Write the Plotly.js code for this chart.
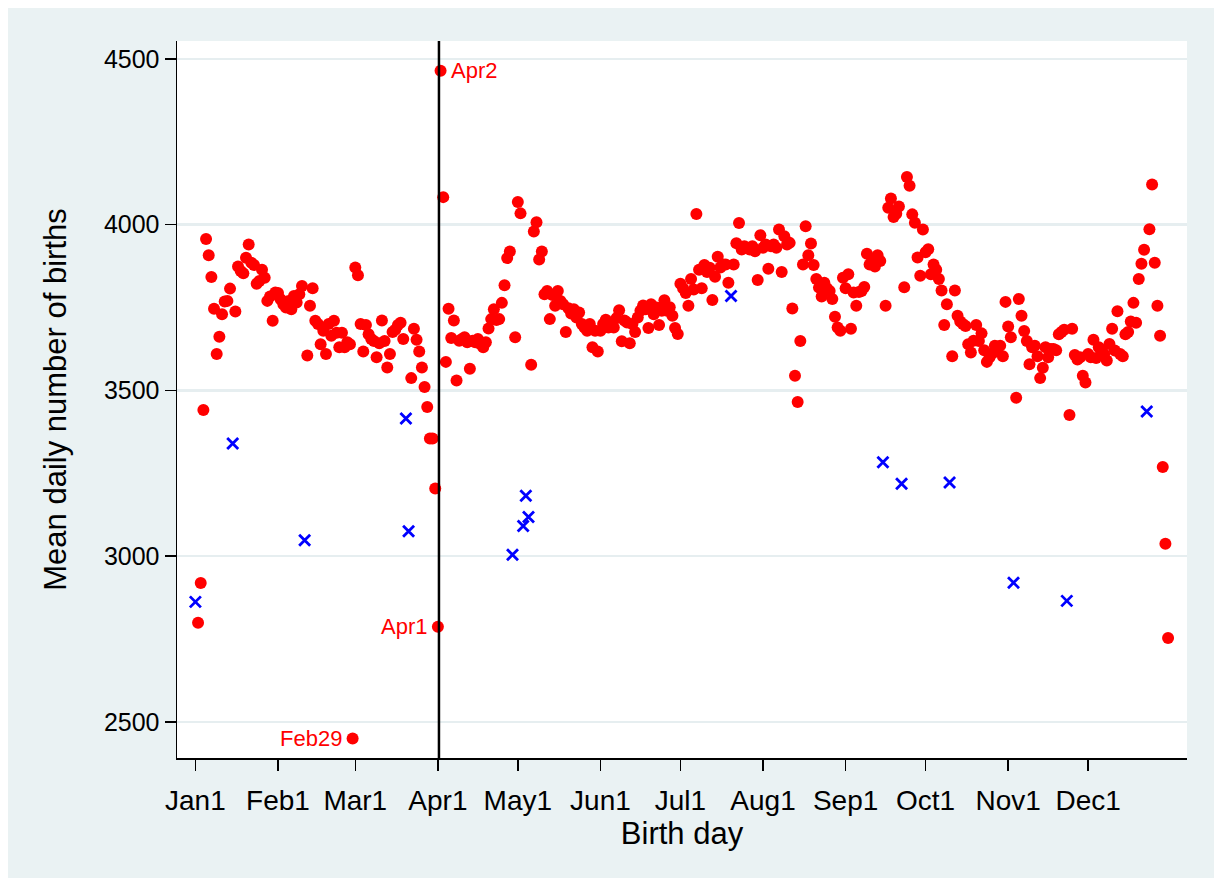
<!DOCTYPE html>
<html>
<head>
<meta charset="utf-8">
<script src="https://cdn.plot.ly/plotly-3.0.1.min.js"></script>
<style>
html,body{margin:0;padding:0;background:#ffffff;}
#chart{position:absolute;left:8px;top:8px;width:1206px;height:870px;}
</style>
</head>
<body>
<div id="chart"></div>
<script>
// Mean daily number of births, by day of year (leap year: 366 days)
const janBirths = [2862, 2799, 2919, 3441, 3957, 3908, 3842, 3746, 3610, 3662, 3730, 3768, 3770, 3807, 3340, 3738, 3874, 3860, 3853, 3900, 3940, 3885, 3878, 3822, 3830, 3864, 3840, 3770, 3783, 3710, 3795];
const febBirths = [3794, 3775, 3760, 3750, 3770, 3745, 3785, 3765, 3790, 3815, 3048, 3605, 3755, 3808, 3710, 3700, 3639, 3680, 3610, 3700, 3665, 3710, 3674, 3630, 3674, 3630, 3645, 3639, 2450];
const marBirths = [3871, 3847, 3700, 3617, 3697, 3669, 3655, 3649, 3600, 3642, 3711, 3649, 3569, 3610, 3676, 3683, 3697, 3704, 3655, 3415, 3075, 3537, 3686, 3653, 3617, 3569, 3510, 3450, 3355, 3355, 3204];
const aprBirths = [2787, 4464, 4083, 3586, 3746, 3658, 3711, 3530, 3650, 3655, 3660, 3645, 3565, 3650, 3645, 3655, 3640, 3630, 3645, 3687, 3715, 3745, 3712, 3715, 3764, 3817, 3899, 3919, 3004, 3660];
const mayBirths = [4068, 4034, 3091, 3182, 3118, 3577, 3979, 4007, 3895, 3919, 3790, 3800, 3715, 3788, 3755, 3800, 3770, 3760, 3676, 3748, 3732, 3745, 3720, 3735, 3700, 3690, 3680, 3700, 3630, 3680, 3617];
const junBirths = [3680, 3700, 3713, 3690, 3705, 3690, 3718, 3742, 3648, 3711, 3705, 3642, 3700, 3676, 3720, 3740, 3756, 3745, 3688, 3760, 3730, 3750, 3697, 3740, 3772, 3740, 3751, 3725, 3688, 3670];
const julBirths = [3822, 3808, 3794, 3755, 3836, 3804, 4032, 3864, 3808, 3878, 3857, 3870, 3773, 3843, 3903, 3871, 3880, 3880, 3825, 3785, 3880, 3944, 4005, 3925, 3935, 3930, 3925, 3935, 3920, 3833, 3968];
const augBirths = [3930, 3940, 3867, 3935, 3940, 3930, 3985, 3857, 3965, 3940, 3945, 3747, 3544, 3465, 3649, 3880, 3995, 3908, 3943, 3878, 3836, 3810, 3783, 3825, 3808, 3800, 3776, 3722, 3690, 3680, 3840];
const sepBirths = [3808, 3850, 3686, 3795, 3755, 3797, 3800, 3812, 3912, 3880, 3895, 3874, 3908, 3890, 3283, 3755, 4051, 4079, 4023, 4033, 4055, 3218, 3811, 4144, 4117, 4031, 4006, 3901, 3846, 3985];
const octBirths = [3917, 3926, 3850, 3880, 3864, 3836, 3801, 3697, 3760, 3222, 3603, 3801, 3725, 3708, 3700, 3694, 3639, 3614, 3650, 3697, 3649, 3672, 3621, 3586, 3600, 3611, 3635, 3625, 3635, 3603, 3767];
const novBirths = [3693, 3660, 2920, 3478, 3776, 3725, 3679, 3649, 3579, 3630, 3635, 3603, 3537, 3568, 3630, 3600, 3625, 3625, 3621, 3669, 3676, 3683, 2865, 3426, 3686, 3607, 3593, 3600, 3544, 3524];
const decBirths = [3610, 3600, 3653, 3598, 3630, 3622, 3610, 3590, 3640, 3686, 3620, 3739, 3610, 3603, 3669, 3676, 3708, 3764, 3704, 3836, 3882, 3924, 3436, 3986, 4121, 3885, 3755, 3665, 3269, 3037, 2753];

// Days (day of year) that are holidays: drawn as blue crosses
const holidayDays = [1, 15, 42, 80, 81, 120, 124, 125, 126, 202, 259, 266, 284, 308, 328, 358];

// Labelled days
const labelDays = [60, 92, 93];
const labelTexts = ['Feb29', 'Apr1', 'Apr2'];
const labelSides = ['left', 'left', 'right'];

// Axis ticks
const monthStartDays = [1, 32, 61, 92, 122, 153, 183, 214, 245, 275, 306, 336];
const monthLabels = ['Jan1', 'Feb1', 'Mar1', 'Apr1', 'May1', 'Jun1', 'Jul1', 'Aug1', 'Sep1', 'Oct1', 'Nov1', 'Dec1'];
const yTicks = [2500, 3000, 3500, 4000, 4500];
const refLineDay = 92.4;

const births = [].concat(janBirths, febBirths, marBirths, aprBirths, mayBirths, junBirths,
  julBirths, augBirths, sepBirths, octBirths, novBirths, decBirths);
const holSet = new Set(holidayDays);
const regX = [], regY = [], holX = [], holY = [];
births.forEach((v, i) => {
  const d = i + 1;
  if (holSet.has(d)) { holX.push(d); holY.push(v); }
  else { regX.push(d); regY.push(v); }
});

const FONT = 'Liberation Sans, Arial, Helvetica, sans-serif';

const traces = [
  {
    type: 'scatter', mode: 'markers', x: regX, y: regY,
    marker: {color: '#ff0000', size: 12, line: {width: 0}},
    hoverinfo: 'x+y', showlegend: false, cliponaxis: false
  },
  {
    type: 'scatter', mode: 'markers', x: holX, y: holY,
    marker: {color: '#0000ff', symbol: 'x-thin-open', size: 11, line: {color: '#0000ff', width: 2.8}},
    hoverinfo: 'x+y', showlegend: false, cliponaxis: false
  }
];

const annotations = labelDays.map((d, k) => ({
  x: d, y: births[d - 1], xref: 'x', yref: 'y',
  text: labelTexts[k], showarrow: false,
  xanchor: labelSides[k] === 'left' ? 'right' : 'left',
  yanchor: 'middle',
  xshift: labelSides[k] === 'left' ? -9 : 8,
  font: {family: FONT, size: 22, color: '#ff0000'}
}));

const layout = {
  width: 1206, height: 870,
  paper_bgcolor: '#eaf2f3',
  plot_bgcolor: '#ffffff',
  margin: {l: 169, r: 27, t: 33, b: 120, pad: 0},
  showlegend: false,
  font: {family: FONT, color: '#000000'},
  xaxis: {
    range: [-5.9, 373.1],
    tickmode: 'array', tickvals: monthStartDays, ticktext: monthLabels,
    ticks: 'outside', ticklen: 11, tickwidth: 1.5, tickcolor: '#000000',
    ticklabelstandoff: 6,
    showline: true, linecolor: '#000000', linewidth: 1.5,
    showgrid: false, zeroline: false,
    tickfont: {family: FONT, size: 28, color: '#000000'},
    title: {text: 'Birth day', font: {family: FONT, size: 31, color: '#000000'}, standoff: 2},
    automargin: false
  },
  yaxis: {
    range: [2391, 4554],
    tickmode: 'array', tickvals: yTicks, ticktext: yTicks.map(String),
    ticks: 'outside', ticklen: 11, tickwidth: 1.5, tickcolor: '#000000',
    showline: true, linecolor: '#000000', linewidth: 1.5,
    showgrid: true, gridcolor: '#e6eef0', gridwidth: 2.5, zeroline: false,
    tickfont: {family: FONT, size: 25, color: '#000000'},
    title: {text: 'Mean daily number of births', font: {family: FONT, size: 31, color: '#000000'}, standoff: 28},
    automargin: false
  },
  shapes: [{
    type: 'line', xref: 'x', yref: 'paper', x0: refLineDay, x1: refLineDay, y0: 0, y1: 1,
    line: {color: '#000000', width: 2.5}
  }],
  annotations: annotations
};

Plotly.newPlot('chart', traces, layout, {displayModeBar: false, staticPlot: true});
</script>
</body>
</html>
